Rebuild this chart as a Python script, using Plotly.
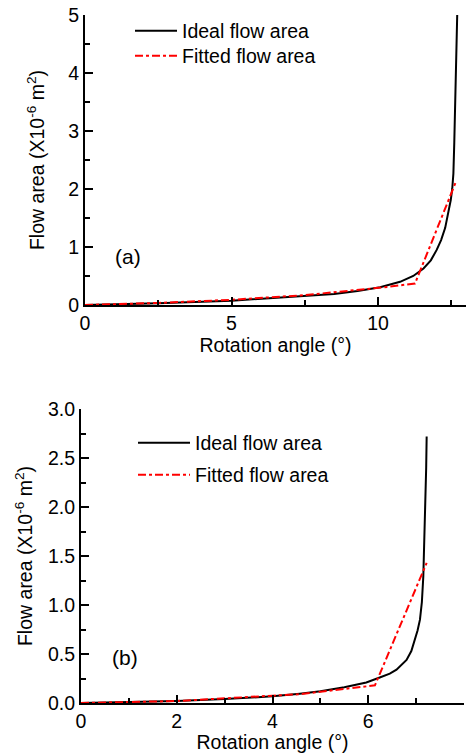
import plotly.graph_objects as go

# Panel (a)
a_ideal_x = [0, 1, 2.5, 5, 7.5, 8.5, 9.3, 10.07, 10.75, 11.2, 11.55, 11.8, 12.0, 12.15, 12.29, 12.42, 12.48, 12.53, 12.57, 12.6, 12.63, 12.66, 12.68, 12.7]
a_ideal_y = [0, 0.012, 0.03, 0.075, 0.15, 0.19, 0.24, 0.305, 0.40, 0.50, 0.63, 0.77, 0.95, 1.12, 1.33, 1.64, 1.81, 2.0, 2.27, 2.8, 3.53, 4.2, 4.69, 5.0]
a_fit_x = [0, 2.5, 5, 7.5, 10.2, 11.26, 12.66]
a_fit_y = [0, 0.035, 0.09, 0.17, 0.305, 0.37, 2.13]

# Panel (b)
b_ideal_x = [0, 1, 2, 3, 4, 4.57, 5.0, 5.5, 5.96, 6.24, 6.45, 6.59, 6.7, 6.8, 6.9, 6.97, 7.03, 7.08, 7.12, 7.15, 7.17, 7.19, 7.21, 7.22]
b_ideal_y = [0, 0.008, 0.02, 0.04, 0.068, 0.095, 0.12, 0.16, 0.21, 0.26, 0.30, 0.34, 0.39, 0.44, 0.53, 0.64, 0.74, 0.85, 1.03, 1.29, 1.6, 2.0, 2.4, 2.72]
b_fit_x = [0, 2, 4, 4.57, 5.27, 6.14, 7.22]
b_fit_y = [0, 0.02, 0.075, 0.09, 0.13, 0.18, 1.43]

FONT = "Liberation Sans, Arial, sans-serif"
RED_DASH = "8px,3px,3px,3px"
FS = 19.5

fig = go.Figure()
fig.add_trace(go.Scatter(x=a_ideal_x, y=a_ideal_y, mode="lines", name="Ideal flow area",
                         line=dict(color="black", width=2), xaxis="x", yaxis="y",
                         legend="legend"))
fig.add_trace(go.Scatter(x=a_fit_x, y=a_fit_y, mode="lines", name="Fitted flow area",
                         line=dict(color="red", width=2, dash=RED_DASH), xaxis="x", yaxis="y",
                         legend="legend2"))
fig.add_trace(go.Scatter(x=b_ideal_x, y=b_ideal_y, mode="lines", name="Ideal flow area",
                         line=dict(color="black", width=2), xaxis="x2", yaxis="y2",
                         legend="legend3"))
fig.add_trace(go.Scatter(x=b_fit_x, y=b_fit_y, mode="lines", name="Fitted flow area",
                         line=dict(color="red", width=2, dash=RED_DASH), xaxis="x2", yaxis="y2",
                         legend="legend4"))

W, H = 468, 753
def px_x(p):
    return p / W
def px_y(p):
    return 1 - p / H

axis_common = dict(showgrid=False, zeroline=False, showline=True, linecolor="black", linewidth=2,
                   ticks="inside", ticklen=8, tickwidth=1.5, tickcolor="black", automargin=False,
                   tickfont=dict(family=FONT, size=FS, color="black"), mirror=False)

ytitle = "Flow area (X10<sup>-6</sup> m<sup>2</sup>)"
xtitle = "Rotation angle (\u00b0)"

def leg(xp, yp, iw):
    return dict(x=px_x(xp), y=px_y(yp), xanchor="left", yanchor="middle", bgcolor="rgba(0,0,0,0)",
                font=dict(family=FONT, size=FS, color="black"), itemwidth=iw)

fig.update_layout(
    width=W, height=H,
    margin=dict(l=0, r=0, t=0, b=0, pad=0, autoexpand=False),
    paper_bgcolor="white", plot_bgcolor="white",
    font=dict(family=FONT, size=FS, color="black"),
    xaxis=dict(domain=[px_x(85), px_x(466)], range=[0, 13], dtick=5, tick0=0, anchor="y",
               minor=dict(dtick=2.5, ticks="inside", ticklen=5, tickcolor="black"),
               title=dict(text=xtitle, font=dict(size=FS), standoff=0), **axis_common),
    yaxis=dict(domain=[px_y(305), px_y(15)], range=[0, 5], dtick=1, tick0=0, anchor="x",
               minor=dict(dtick=0.5, ticks="inside", ticklen=5, tickcolor="black"),
               title=dict(text=ytitle, font=dict(size=FS), standoff=18), **axis_common),
    xaxis2=dict(domain=[px_x(81), px_x(464)], range=[0, 8], dtick=2, tick0=0, anchor="y2",
                minor=dict(dtick=1, ticks="inside", ticklen=5, tickcolor="black"),
                title=dict(text=xtitle, font=dict(size=FS), standoff=1), **axis_common),
    yaxis2=dict(domain=[px_y(703), px_y(409)], range=[0, 3], dtick=0.5, tick0=0, tickformat=".1f",
                anchor="x2",
                minor=dict(dtick=0.25, ticks="inside", ticklen=5, tickcolor="black"),
                title=dict(text=ytitle, font=dict(size=FS), standoff=10), **axis_common),
    legend=leg(130, 31, 42),
    legend2=leg(130, 56, 42),
    legend3=leg(133, 443, 52),
    legend4=leg(133, 475, 52),
    showlegend=True,
)

fig.add_annotation(x=1.47, y=0.83, xref="x", yref="y", text="(a)", showarrow=False,
                   font=dict(family=FONT, size=21, color="black"))
fig.add_annotation(x=0.91, y=0.46, xref="x2", yref="y2", text="(b)", showarrow=False,
                   font=dict(family=FONT, size=21, color="black"))

fig.write_html("out.html", config={"displayModeBar": False},
               post_script="document.body.style.margin='0px';")
